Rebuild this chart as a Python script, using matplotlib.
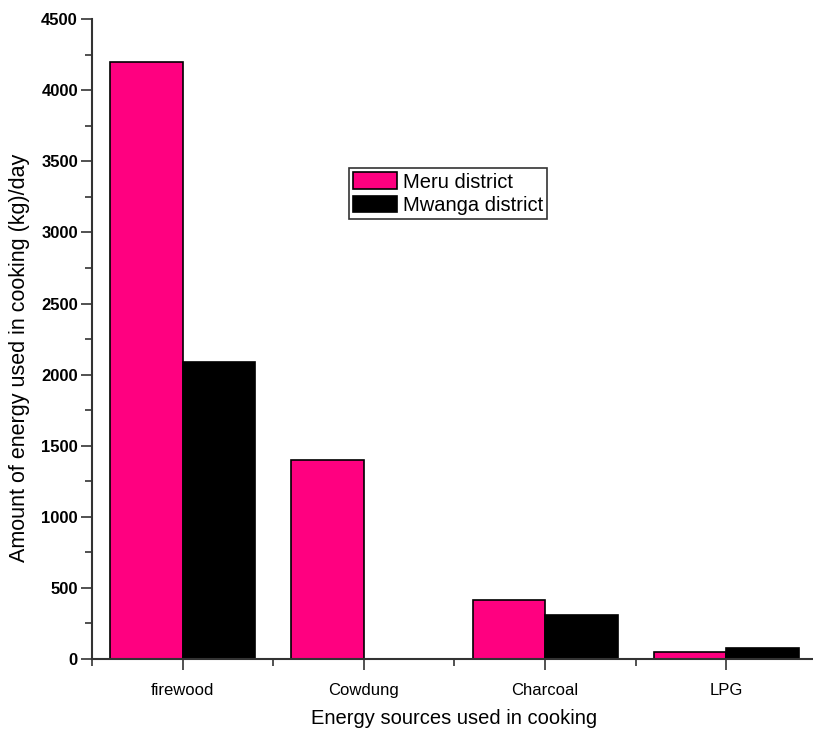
import matplotlib.pyplot as plt
import numpy as np
from matplotlib.ticker import MultipleLocator

sources = ["firewood", "Cowdung", "Charcoal", "LPG"]
meru = [4200, 1400, 415, 50]
mwanga = [2090, 0, 310, 80]

plt.rcParams["font.family"] = ["Liberation Sans", "DejaVu Sans"]

fig = plt.figure(figsize=(8.13, 7.38), dpi=100)
ax = fig.add_axes([0.113, 0.107, 0.892, 0.867])

x = np.arange(len(sources))
w = 0.4
ax.bar(x - w / 2, meru, w, color="#ff0080", edgecolor="black", linewidth=1.2, label="Meru district")
ax.bar(x + w / 2, mwanga, w, color="black", edgecolor="black", linewidth=1.2, label="Mwanga district")

ax.set_xlim(-0.5, 3.5)
ax.set_ylim(0, 4500)
ax.set_xticks(x)
ax.set_xticklabels(sources, fontsize=12)
ax.set_xticks(np.arange(-0.5, 3.5, 1.0), minor=True)
ax.yaxis.set_major_locator(MultipleLocator(500))
ax.yaxis.set_minor_locator(MultipleLocator(250))
for lab in ax.get_yticklabels():
    lab.set_fontsize(12)
    lab.set_fontweight("bold")

ax.tick_params(axis="both", which="major", direction="out", length=8, width=1.2, color="#333")
ax.tick_params(axis="both", which="minor", direction="out", length=5, width=1.2, color="#333")
ax.tick_params(axis="x", pad=9)
ax.tick_params(axis="y", pad=2)

for sp in ("top", "right"):
    ax.spines[sp].set_visible(False)
for sp in ("left", "bottom"):
    ax.spines[sp].set_linewidth(1.5)
    ax.spines[sp].set_color("#333")

ax.set_xlabel("Energy sources used in cooking", fontsize=14.5, labelpad=8)
ax.set_ylabel("Amount of energy used in cooking (kg)/day", fontsize=15.5)
ax.yaxis.set_label_coords(-0.085, 0.47)

leg = ax.legend(loc="upper left", bbox_to_anchor=(0.354, 0.767), fontsize=14.5,
                frameon=True, fancybox=False, edgecolor="black", borderpad=0.2,
                handlelength=2.2, handleheight=0.9, handletextpad=0.3, labelspacing=0.2,
                borderaxespad=0)
leg.get_frame().set_linewidth(1.2)

fig.savefig("out.png", dpi=100, facecolor="white")
